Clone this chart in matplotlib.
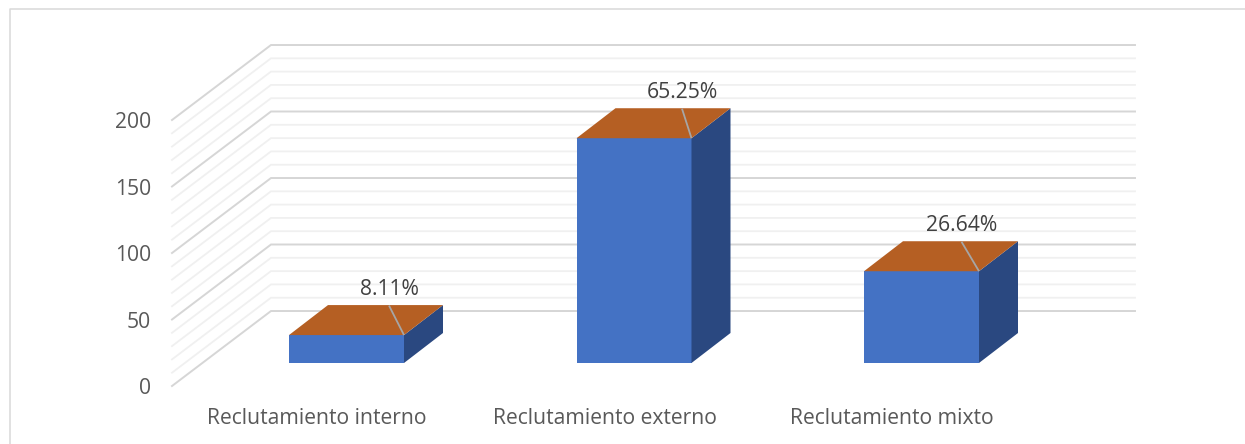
import matplotlib
matplotlib.use('Agg')
import matplotlib.pyplot as plt
from matplotlib.patches import Polygon

plt.rcParams['font.family'] = ['Open Sans', 'DejaVu Sans']

# data
categories = ['Reclutamiento interno', 'Reclutamiento externo', 'Reclutamiento mixto']
values = [21, 169, 69]
percent_labels = ['8.11%', '65.25%', '26.64%']
major_ticks = [0, 50, 100, 150, 200]
minor_ticks = [10, 20, 30, 40, 60, 70, 80, 90, 110, 120, 130, 140, 160, 170, 180, 190]

# layout: one category step is 287.5 px, one value unit is 1.33 px
STEP = 287.5
UNIT = 1.33
BAR_W = 115 / STEP
BAR_DX = 39 / STEP
BAR_DV = 30 / UNIT
WALL_DX = 99 / STEP
WALL_DV = 75 / UNIT
FLOOR_X = -174.5 / STEP     # left front corner of the floor
FLOOR_V = -17.3             # value position of the front of the floor
WALL_RIGHT = (1135 - 346.5) / STEP
FONT_SIZE = 15.2

fig = plt.figure(figsize=(12.45, 4.44), dpi=100)
ax = fig.add_axes([0, 0, 1, 1])
ax.set_xlim(-346.5 / STEP, (1245 - 346.5) / STEP)
ax.set_ylim((363 - 444) / UNIT, 363 / UNIT)
ax.axis('off')

# outer frame, top and left only
ax.plot([10 / 1245, 10 / 1245, 1], [0, 1 - 9.5 / 444, 1 - 9.5 / 444], transform=ax.transAxes,
        color='#d9d9d9', lw=1.1)


def grid_line(v, color, lw):
    x0 = FLOOR_X
    y0 = FLOOR_V + v
    ax.plot([x0, x0 + WALL_DX, WALL_RIGHT], [y0, y0 + WALL_DV, y0 + WALL_DV],
            color=color, lw=lw, solid_joinstyle='miter', zorder=1)


for v in minor_ticks:
    grid_line(v, '#f0f0f0', 1.3)
for v in major_ticks:
    grid_line(v, '#d6d6d6', 1.4)

label_dx = [42.5, 48, 40]

# bars
for i, v in enumerate(values):
    x0 = i - BAR_W / 2
    x1 = i + BAR_W / 2
    ax.add_patch(Polygon([(x0, 0), (x1, 0), (x1, v), (x0, v)], fc='#4472c4', ec='none', zorder=3))
    ax.add_patch(Polygon([(x1, 0), (x1 + BAR_DX, BAR_DV), (x1 + BAR_DX, v + BAR_DV), (x1, v)],
                         fc='#2a4880', ec='none', zorder=3))
    ax.add_patch(Polygon([(x0, v), (x1, v), (x1 + BAR_DX, v + BAR_DV), (x0 + BAR_DX, v + BAR_DV)],
                         fc='#b55f23', ec='none', zorder=3))
    # leader line from under the label to the front corner of the top
    ax.plot([i + label_dx[i] / STEP, x1], [v + 29.5 / UNIT, v], color='#a6a6a6', lw=1.3, zorder=4,
            solid_capstyle='butt')

# data labels
for i, v in enumerate(values):
    ax.text(i + label_dx[i] / STEP, v + 45.5 / UNIT, percent_labels[i], ha='center', va='center',
            fontsize=FONT_SIZE, color='#404040', zorder=5)

# axis labels
for v in major_ticks:
    ax.text(-195.5 / STEP, FLOOR_V + v - 2, str(v), ha='right', va='center',
            fontsize=FONT_SIZE, color='#595959')
for i, name in enumerate(categories):
    ax.text(i - 29.5 / STEP, -55.5 / UNIT, name, ha='center', va='center',
            fontsize=FONT_SIZE, color='#595959')

fig.savefig('out.png', dpi=100)
